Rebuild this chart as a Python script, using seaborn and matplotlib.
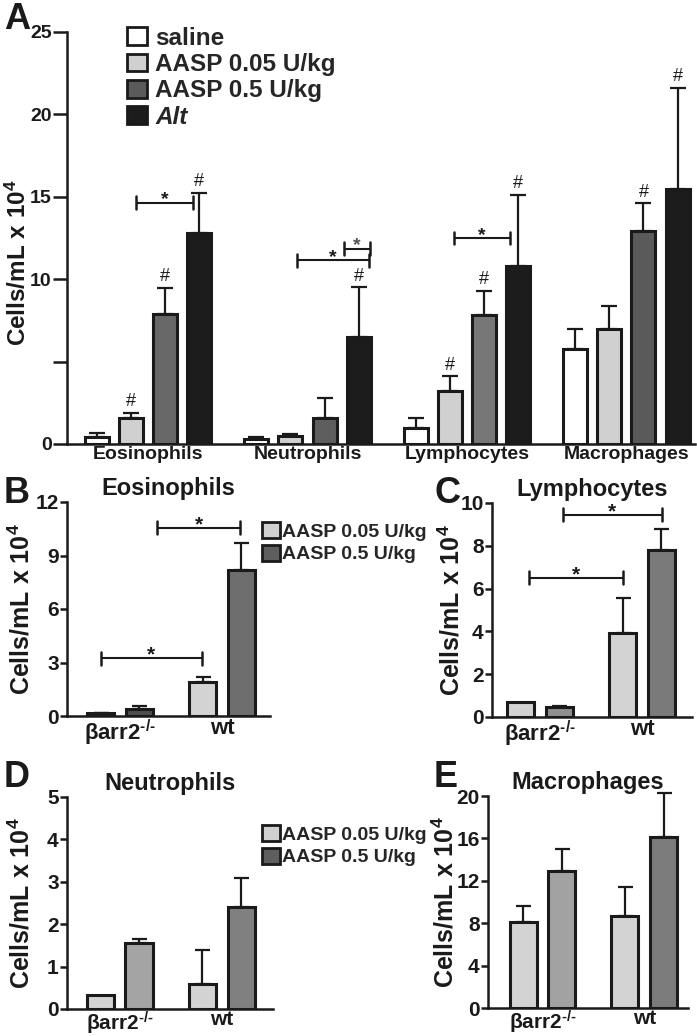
import matplotlib
matplotlib.use('Agg')
import matplotlib.pyplot as plt
import seaborn as sns
import pandas as pd
from matplotlib.patches import Patch

# ---- panel A data (cells/mL x 10^4) ----
cells = ['Eosinophils', 'Neutrophils', 'Lymphocytes', 'Macrophages']
groups_a = ['saline', 'AASP 0.05 U/kg', 'AASP 0.5 U/kg', 'Alt']
saline_mean = [0.4, 0.3, 0.95, 5.75]
saline_err = [0.25, 0.15, 0.65, 1.25]
aasp005_mean = [1.6, 0.5, 3.2, 7.0]
aasp005_err = [0.3, 0.1, 0.9, 1.4]
aasp05_mean = [7.9, 1.6, 7.8, 12.9]
aasp05_err = [1.55, 1.2, 1.5, 1.7]
alt_mean = [12.8, 6.5, 10.8, 15.45]
alt_err = [2.45, 3.0, 4.3, 6.15]
# (cell index, group index) of bars marked with #
hash_a = [(0, 1), (0, 2), (0, 3), (1, 3), (2, 1), (2, 2), (2, 3), (3, 2), (3, 3)]
# significance brackets: x start, x end, height
brackets_a = [(-0.075, 0.283, 14.65), (0.937, 1.383, 11.15),
              (1.232, 1.389, 11.85), (1.918, 2.27, 12.5)]

# ---- panels B-E data ----
genotypes = ['\u03b2arr2$^{\\text{-/-}}$', 'wt']
groups_b = ['AASP 0.05 U/kg', 'AASP 0.5 U/kg']
eos_005 = [0.17, 1.9]
eos_005_err = [0.02, 0.3]
eos_05 = [0.39, 8.2]
eos_05_err = [0.17, 1.5]
lym_005 = [0.7, 3.93]
lym_005_err = [0.0, 1.63]
lym_05 = [0.47, 7.8]
lym_05_err = [0.05, 1.0]
neu_005 = [0.33, 0.6]
neu_005_err = [0.0, 0.78]
neu_05 = [1.56, 2.41]
neu_05_err = [0.09, 0.67]
mac_005 = [8.1, 8.7]
mac_005_err = [1.5, 2.7]
mac_05 = [12.9, 16.1]
mac_05_err = [2.1, 4.2]
brackets_b = [(-0.19, 0.80, 3.25), (0.36, 1.18, 10.55)]
brackets_c = [(-0.11, 0.81, 6.5), (0.225, 1.196, 9.44)]

sns.set_theme(style='ticks')
plt.rcParams['font.family'] = ['Liberation Sans', 'DejaVu Sans']
plt.rcParams['font.weight'] = 'bold'
plt.rcParams['mathtext.fontset'] = 'custom'
plt.rcParams['mathtext.rm'] = 'Liberation Sans'
plt.rcParams['mathtext.bf'] = 'Liberation Sans:bold'
plt.rcParams['mathtext.default'] = 'bf'
plt.rcParams['axes.linewidth'] = 1.8
plt.rcParams['axes.edgecolor'] = '#1a1a1a'

K = '#1a1a1a'
fig = plt.figure(figsize=(6.97, 10.36), dpi=100)
W, H = 697, 1036


def axes_px(x0, x1, y_bottom, y_top):
    return fig.add_axes([x0 / W, 1 - y_bottom / H, (x1 - x0) / W, (y_bottom - y_top) / H])


def bar_panel(ax, order, hue_order, means, errs, faces, width, gap, xlim, ylim,
              yticks, yticklabels, capsize, tick_fs, x_fs, tick_len=5, xpad=1.5):
    df = pd.DataFrame({
        'x': [c for h in hue_order for c in order],
        'group': [h for h in hue_order for c in order],
        'value': [v for m in means for v in m],
    })
    sns.barplot(data=df, x='x', y='value', hue='group', order=order, hue_order=hue_order,
                palette=[f[0] for f in faces], edgecolor=K, linewidth=2.2,
                width=width, gap=gap, errorbar=None, legend=False, ax=ax)
    bars = list(ax.containers)
    for i, cont in enumerate(bars):
        for j, bar in enumerate(cont):
            bar.set_facecolor(faces[i][j])
            if errs[i][j] > 0:
                xc = bar.get_x() + bar.get_width() / 2
                eb = ax.errorbar(xc, bar.get_height(), yerr=[[0], [errs[i][j]]], fmt='none',
                                 ecolor=K, elinewidth=1.6, capsize=capsize, capthick=1.6,
                                 zorder=1)
                for art in eb.lines[1] + eb.lines[2]:
                    art.set_clip_on(False)
    ax.set_xlim(*xlim)
    ax.set_ylim(*ylim)
    ax.set_yticks(yticks)
    ax.set_yticklabels(yticklabels, fontsize=tick_fs, fontweight='bold')
    ax.tick_params(axis='y', length=tick_len, width=1.8, pad=1, colors=K)
    ax.tick_params(axis='x', length=0, pad=xpad, labelsize=x_fs, colors=K)
    for t in ax.get_xticklabels():
        t.set_fontweight('bold')
    ax.set_xlabel('')
    ax.set_ylabel('')
    sns.despine(ax=ax)
    return bars


def bracket(ax, x0, x1, y, star_fs=12, star_color=K):
    h = ax.get_window_extent().height
    lo, hi = ax.get_ylim()
    cap = 6.5 * (hi - lo) / h
    ax.plot([x0, x1], [y, y], color=K, lw=1.5, solid_capstyle='butt')
    ax.plot([x0, x0], [y - cap, y + cap], color=K, lw=1.8)
    ax.plot([x1, x1], [y - cap, y + cap], color=K, lw=1.8)
    ax.annotate('*', ((x0 + x1) / 2, y), xytext=(0, 2), textcoords='offset points',
                ha='center', va='center', fontsize=star_fs, color=star_color)


def ylabel(ax, xpos, fs, ypos=0.5):
    ax.set_ylabel('Cells/mL x 10$^{4}$', fontsize=fs, fontweight='bold', color=K)
    ax.yaxis.set_label_coords(xpos, ypos)


# ---------------- panel A ----------------
axA = axes_px(67, 695, 444, 32)
faces_a = [['white'] * 4, ['#d0d0d0'] * 4, ['#686868', '#5e5e5e', '#777777', '#5a5a5a'],
           ['#1c1c1c'] * 4]
means_a = [saline_mean, aasp005_mean, aasp05_mean, alt_mean]
errs_a = [saline_err, aasp005_err, aasp05_err, alt_err]
bars_a = bar_panel(axA, cells, groups_a, means_a, errs_a, faces_a, 0.855, 0.295,
                   (-0.508, 3.43), (0, 25), [0, 5, 10, 15, 20, 25],
                   ['0', '', '10', '15', '20', '25'], 5.8, 14, 14, tick_len=10)
for ci, gi in hash_a:
    bar = bars_a[gi][ci]
    top = means_a[gi][ci] + errs_a[gi][ci]
    axA.annotate('#', (bar.get_x() + bar.get_width() / 2, top), xytext=(0, 2),
                 textcoords='offset points', ha='center', va='bottom',
                 fontsize=13, fontweight='normal', color=K)
for k, (x0, x1, y) in enumerate(brackets_a):
    bracket(axA, x0, x1, y, star_fs=14, star_color='#555555' if k == 2 else K)
ylabel(axA, -0.058, 17.5, ypos=0.44)
handles = [Patch(facecolor=c, edgecolor=K, linewidth=2) for c in
           ['white', '#d0d0d0', '#5a5a5a', '#1c1c1c']]
leg = axA.legend(handles, groups_a, loc='upper left', bbox_to_anchor=(0.096, 1.013),
                 frameon=False, fontsize=17.5, handlelength=0.8, handleheight=0.75,
                 handletextpad=0.35, labelspacing=0.14, borderpad=0, borderaxespad=0)
for t in leg.get_texts():
    t.set_fontweight('bold')
leg.get_texts()[3].set_fontstyle('italic')

# ---------------- panels B-E ----------------
light = '#d3d3d3'
panels = [
    ('B', 'Eosinophils', (67, 270, 716, 502), [eos_005, eos_05], [eos_005_err, eos_05_err],
     [[light, light], ['#4e4e4e', '#6e6e6e']], (-0.52, 1.47), (0, 12), [0, 3, 6, 9, 12],
     -0.16, 1.5, 16),
    ('C', 'Lymphocytes', (492, 692, 717, 503), [lym_005, lym_05], [lym_005_err, lym_05_err],
     [[light, light], ['#8f8f8f', '#7a7a7a']], (-0.47, 1.49), (0, 10), [0, 2, 4, 6, 8, 10],
     -0.14, 1.5, 16),
    ('D', 'Neutrophils', (67, 273, 1009, 797), [neu_005, neu_05], [neu_005_err, neu_05_err],
     [[light, light], ['#a4a4a4', '#808080']], (-0.515, 1.50), (0, 5), [0, 1, 2, 3, 4, 5],
     -0.16, 0.5, 15),
    ('E', 'Macrophages', (488, 688, 1008, 796), [mac_005, mac_05], [mac_005_err, mac_05_err],
     [[light, light], ['#a2a2a2', '#7b7b7b']], (-0.537, 1.43), (0, 20), [0, 4, 8, 12, 16, 20],
     -0.15, 0.5, 15),
]
axes = {}
for letter, title, box, means, errs, faces, xlim, ylim, yt, ylx, xpad, xfs in panels:
    ax = axes_px(*box)
    axes[letter] = ax
    bar_panel(ax, genotypes, groups_b, means, errs, faces, 0.76, 0.3, xlim, ylim,
              yt, [str(v) for v in yt], 5.4, 15, xfs, xpad=xpad)
    ax.set_title(title, fontsize=17, fontweight='bold', color=K, pad=5)
    ylabel(ax, ylx, 18)

for x0, x1, y in brackets_b:
    bracket(axes['B'], x0, x1, y, star_fs=15)
for x0, x1, y in brackets_c:
    bracket(axes['C'], x0, x1, y, star_fs=15)

for ytop in (522, 825):
    hb = [Patch(facecolor=c, edgecolor=K, linewidth=2) for c in ['#d0d0d0', '#5e5e5e']]
    lg = fig.legend(hb, groups_b, loc='upper left', bbox_to_anchor=(262 / W, 1 - ytop / H),
                    frameon=False, fontsize=14, handlelength=0.9, handleheight=0.9,
                    handletextpad=0.15, labelspacing=0.2, borderpad=0, borderaxespad=0)
    for t in lg.get_texts():
        t.set_fontweight('bold')

# panel letters
for letter, x, y in [('A', 4, 2), ('B', 4, 476), ('C', 434, 476), ('D', 4, 760), ('E', 434, 760)]:
    fig.text(x / W, 1 - y / H, letter, fontsize=26, fontweight='bold', ha='left', va='top',
             color=K)

fig.savefig('out.png', dpi=100)
